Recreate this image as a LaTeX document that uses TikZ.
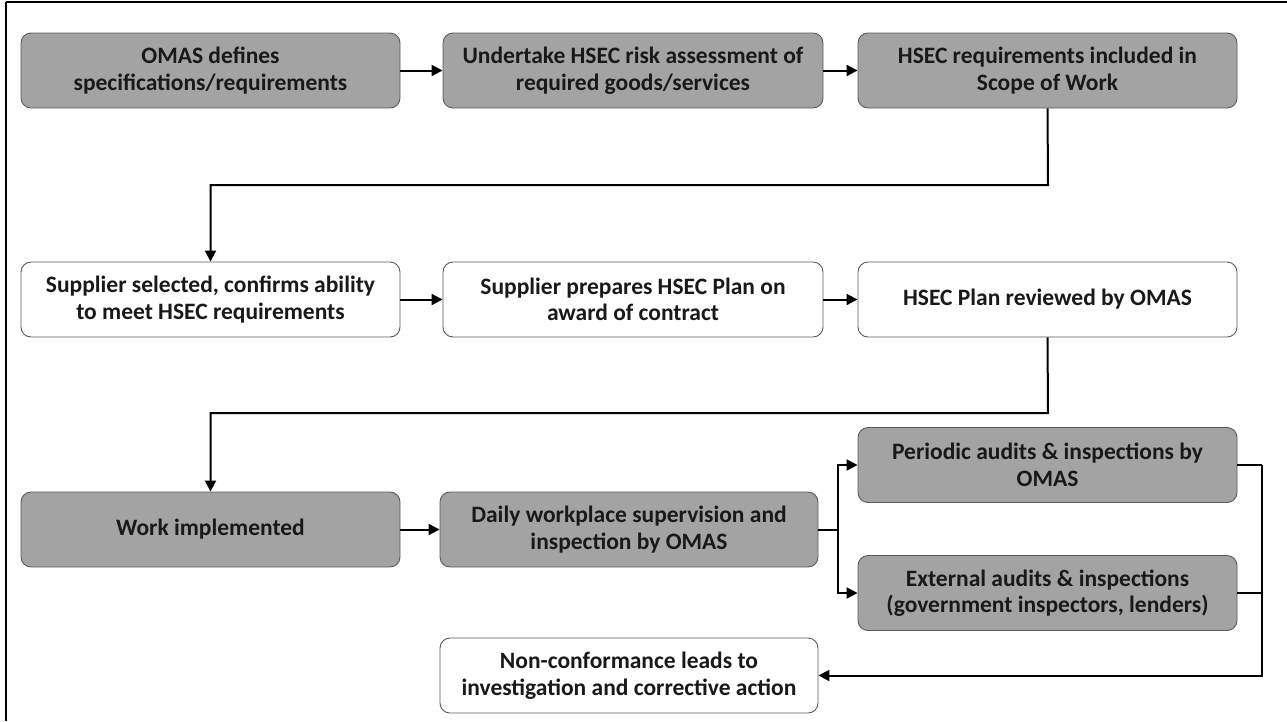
\documentclass[tikz,border=0pt]{standalone}
\usepackage{fontspec}
\setmainfont{Carlito}
\usetikzlibrary{arrows.meta}
\definecolor{boxgray}{RGB}{163,163,163}
\definecolor{edgegray}{RGB}{90,90,90}
\definecolor{txt}{RGB}{25,25,25}
\tikzset{
  box/.style={draw=edgegray, line width=0.9pt, rounded corners=10pt, minimum height=75pt,
    align=center, inner sep=2pt, text=txt,
    font=\fontsize{23.5}{26.5}\selectfont\bfseries},
  grey/.style={box, fill=boxgray},
  white/.style={box, fill=white},
  conn/.style={line width=2pt, black, -{Triangle[length=11pt,width=11pt]}},
  plain/.style={line width=2pt, black},
}
\begin{document}
\begin{tikzpicture}[x=1pt,y=-1pt]
\useasboundingbox (0,0) rectangle (1287,721);
\draw[line width=2pt] (6,2) -- (1287,2);
\draw[line width=2pt] (6,2) -- (6,721);
% row 1
\node[grey, minimum width=379pt] (b1) at (210.5,70.5) {OMAS defines\\specifications/requirements};
\node[grey, minimum width=380pt] (b2) at (633,70.5) {Undertake HSEC risk assessment of\\required goods/services};
\node[grey, minimum width=379pt] (b3) at (1047.5,70.5) {HSEC requirements included in\\Scope of Work};
% row 2
\node[white, minimum width=379pt] (b4) at (210.5,299.5) {Supplier selected, confirms ability\\to meet HSEC requirements};
\node[white, minimum width=380pt] (b5) at (633,299.5) {Supplier prepares HSEC Plan on\\award of contract};
\node[white, minimum width=379pt] (b6) at (1047.5,299.5) {HSEC Plan reviewed by OMAS};
% row 3
\node[grey, minimum width=379pt] (b7) at (210.5,529.5) {Work implemented};
\node[grey, minimum width=378pt] (b8) at (629,529.5) {Daily workplace supervision and\\inspection by OMAS};
\node[grey, minimum width=379pt] (b9) at (1047.5,465) {Periodic audits \& inspections by\\OMAS};
\node[grey, minimum width=379pt] (b10) at (1047.5,593) {External audits \& inspections\\(government inspectors, lenders)};
\node[white, minimum width=378pt] (b11) at (629,675.5) {Non-conformance leads to\\investigation and corrective action};
% coordinates
\coordinate (r1) at (1048,185);
\coordinate (l1) at (210.5,185);
\coordinate (r2) at (1048,413);
\coordinate (l2) at (210.5,413);
\coordinate (br) at (838,529.5);
\coordinate (rr) at (1262,465);
% connectors
\draw[conn] (b1.east) -- (b2.west);
\draw[conn] (b2.east) -- (b3.west);
\draw[conn] (b3.south) -- (r1) -- (l1) -- (b4.north);
\draw[conn] (b4.east) -- (b5.west);
\draw[conn] (b5.east) -- (b6.west);
\draw[conn] (b6.south) -- (r2) -- (l2) -- (b7.north);
\draw[conn] (b7.east) -- (b8.west);
\draw[plain] (b8.east) -- (br);
\draw[conn] (br) |- (b9.west);
\draw[conn] (br) |- (b10.west);
\draw[plain] (b9.east) -- (rr);
\draw[plain] (b10.east) -| (rr);
\draw[conn] (rr) |- (b11.east);
\end{tikzpicture}
\end{document}
